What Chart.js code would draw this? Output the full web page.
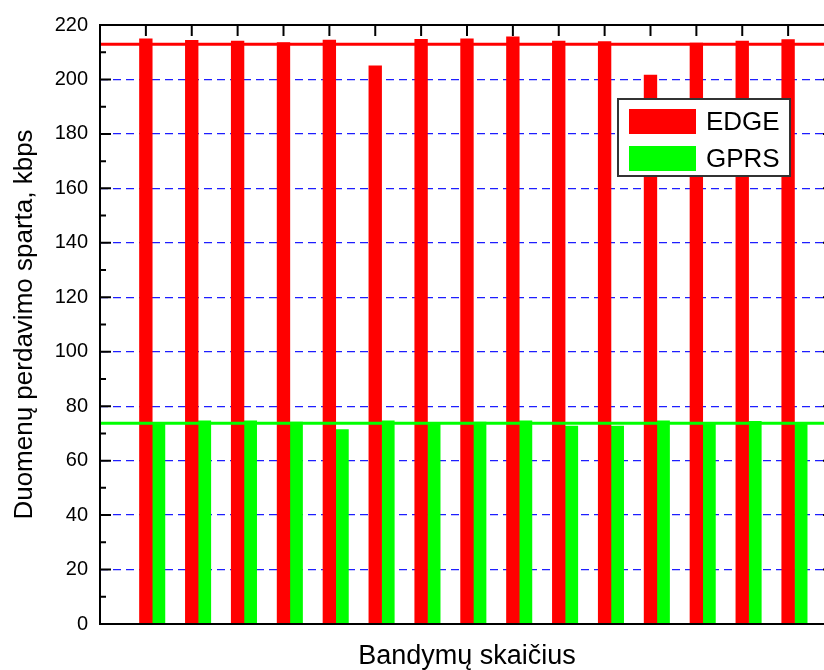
<!DOCTYPE html>
<html>
<head>
<meta charset="utf-8">
<script src="https://cdn.jsdelivr.net/npm/chart.js@4.4.0/dist/chart.umd.min.js"></script>
<style>
html, body { margin: 0; padding: 0; background: #fff; overflow: hidden; }
#wrap { width: 840px; height: 670px; }
</style>
</head>
<body>
<div id="wrap"><canvas id="speed-chart" width="840" height="670"></canvas></div>
<script>
const trials = [1, 2, 3, 4, 5, 6, 7, 8, 9, 10, 11, 12, 13, 14, 15];
const edgeSpeed = [214.9, 214.4, 214.1, 213.5, 214.5, 205.0, 214.7, 214.9, 215.7, 214.1, 213.9, 201.6, 213.4, 214.1, 214.6];
const gprsSpeed = [73.7, 74.6, 74.6, 74.2, 71.4, 74.6, 73.7, 74.2, 74.6, 72.7, 72.7, 74.6, 74.1, 74.4, 74.1];
const meanSpeed = [212.9, 73.7]; // EDGE, GPRS
const seriesNames = ['EDGE', 'GPRS'];
const yTicks = [0, 20, 40, 60, 80, 100, 120, 140, 160, 180, 200, 220];

const fontFamily = "'Liberation Sans', Arial, sans-serif";
const barWidth = 12.7;
const pairShift = 0.138; // red bar sits centred on the tick

Chart.defaults.color = '#000';
Chart.defaults.font.family = fontFamily;

// frame with inward ticks, Origin style
const framePlugin = {
    id: 'frame',
    beforeDatasetsDraw(chart) {
        const {ctx, chartArea: a, scales: {x}} = chart;
        ctx.save();
        ctx.strokeStyle = '#000';
        ctx.lineWidth = 2;
        trials.forEach(t => {
            const px = x.getPixelForValue(t);
            ctx.beginPath();
            ctx.moveTo(px, a.bottom);
            ctx.lineTo(px, a.bottom - 11);
            ctx.stroke();
        });
        ctx.restore();
    },
    afterDatasetsDraw(chart) {
        const {ctx, chartArea: a, scales: {x, y}} = chart;
        ctx.save();
        ctx.strokeStyle = '#000';
        ctx.lineWidth = 2;
        ctx.strokeRect(a.left, a.top, a.right - a.left, a.bottom - a.top);
        trials.forEach(t => {
            const px = x.getPixelForValue(t);
            ctx.beginPath();
            ctx.moveTo(px, a.top);
            ctx.lineTo(px, a.top + 11);
            ctx.stroke();
        });
        for (let v = 0; v <= 220; v += 10) {
            const py = y.getPixelForValue(v);
            const len = yTicks.includes(v) ? 11 : 6;
            ctx.beginPath();
            ctx.moveTo(a.left, py);
            ctx.lineTo(a.left + len, py);
            ctx.moveTo(a.right, py);
            ctx.lineTo(a.right - len, py);
            ctx.stroke();
        }
        ctx.restore();
    }
};

const legendBox = {
    id: 'legendBox',
    afterDraw(chart) {
        const ctx = chart.ctx;
        const bars = chart.data.datasets.filter(d => d.type === 'bar');
        ctx.save();
        ctx.fillStyle = '#fff';
        ctx.fillRect(618, 99, 172, 77);
        ctx.strokeStyle = '#333';
        ctx.lineWidth = 2;
        ctx.strokeRect(618, 99, 172, 77);
        ctx.font = '26px ' + fontFamily;
        ctx.textBaseline = 'alphabetic';
        bars.forEach((d, i) => {
            const top = 109 + i * 37;
            ctx.fillStyle = d.backgroundColor;
            ctx.fillRect(629, top, 67, 25);
            ctx.fillStyle = '#000';
            ctx.fillText(d.label, 706, top + 21);
        });
        ctx.restore();
    }
};

const ctx = document.getElementById('speed-chart').getContext('2d');

const speedChart = new Chart(ctx, {
    data: {
        datasets: [{
            type: 'line',
            label: 'EDGE mean',
            data: [{x: 0, y: meanSpeed[0]}, {x: 16, y: meanSpeed[0]}],
            borderColor: '#ff0000',
            borderWidth: 3,
            pointRadius: 0,
            order: 0
        }, {
            type: 'line',
            label: 'GPRS mean',
            data: [{x: 0, y: meanSpeed[1]}, {x: 16, y: meanSpeed[1]}],
            borderColor: '#00ff00',
            borderWidth: 3,
            pointRadius: 0,
            order: 0
        }, {
            type: 'bar',
            label: seriesNames[0],
            data: trials.map((t, i) => ({x: t + pairShift, y: edgeSpeed[i]})),
            backgroundColor: '#ff0000',
            barThickness: barWidth,
            order: 1
        }, {
            type: 'bar',
            label: seriesNames[1],
            data: trials.map((t, i) => ({x: t + pairShift, y: gprsSpeed[i]})),
            backgroundColor: '#00ff00',
            barThickness: barWidth,
            order: 1
        }]
    },
    options: {
        responsive: false,
        animation: false,
        layout: {padding: {top: 25, right: 6, left: 0, bottom: 0}},
        plugins: {
            legend: {display: false},
            tooltip: {enabled: false}
        },
        scales: {
            x: {
                type: 'linear',
                min: 0,
                max: 16,
                offset: false,
                ticks: {display: false},
                grid: {display: false, offset: false},
                border: {display: false},
                title: {
                    display: true,
                    text: 'Bandymų skaičius',
                    font: {size: 27, lineHeight: 1},
                    padding: {top: 0, bottom: 0}
                },
                afterFit(scale) { scale.height = 46; }
            },
            y: {
                min: 0,
                max: 220,
                afterBuildTicks(scale) { scale.ticks = yTicks.map(v => ({value: v})); },
                ticks: {font: {size: 20}, padding: 12},
                grid: {
                    drawTicks: false,
                    lineWidth: 1.2,
                    color: 'rgb(30,30,255)'
                },
                border: {display: false, dash: [8, 5]},
                title: {
                    display: true,
                    text: 'Duomenų perdavimo sparta, kbps',
                    font: {size: 26, lineHeight: 1},
                    padding: {top: 12, bottom: 0}
                },
                afterFit(scale) { scale.width = 100; }
            }
        }
    },
    plugins: [framePlugin, legendBox]
});
</script>
</body>
</html>
